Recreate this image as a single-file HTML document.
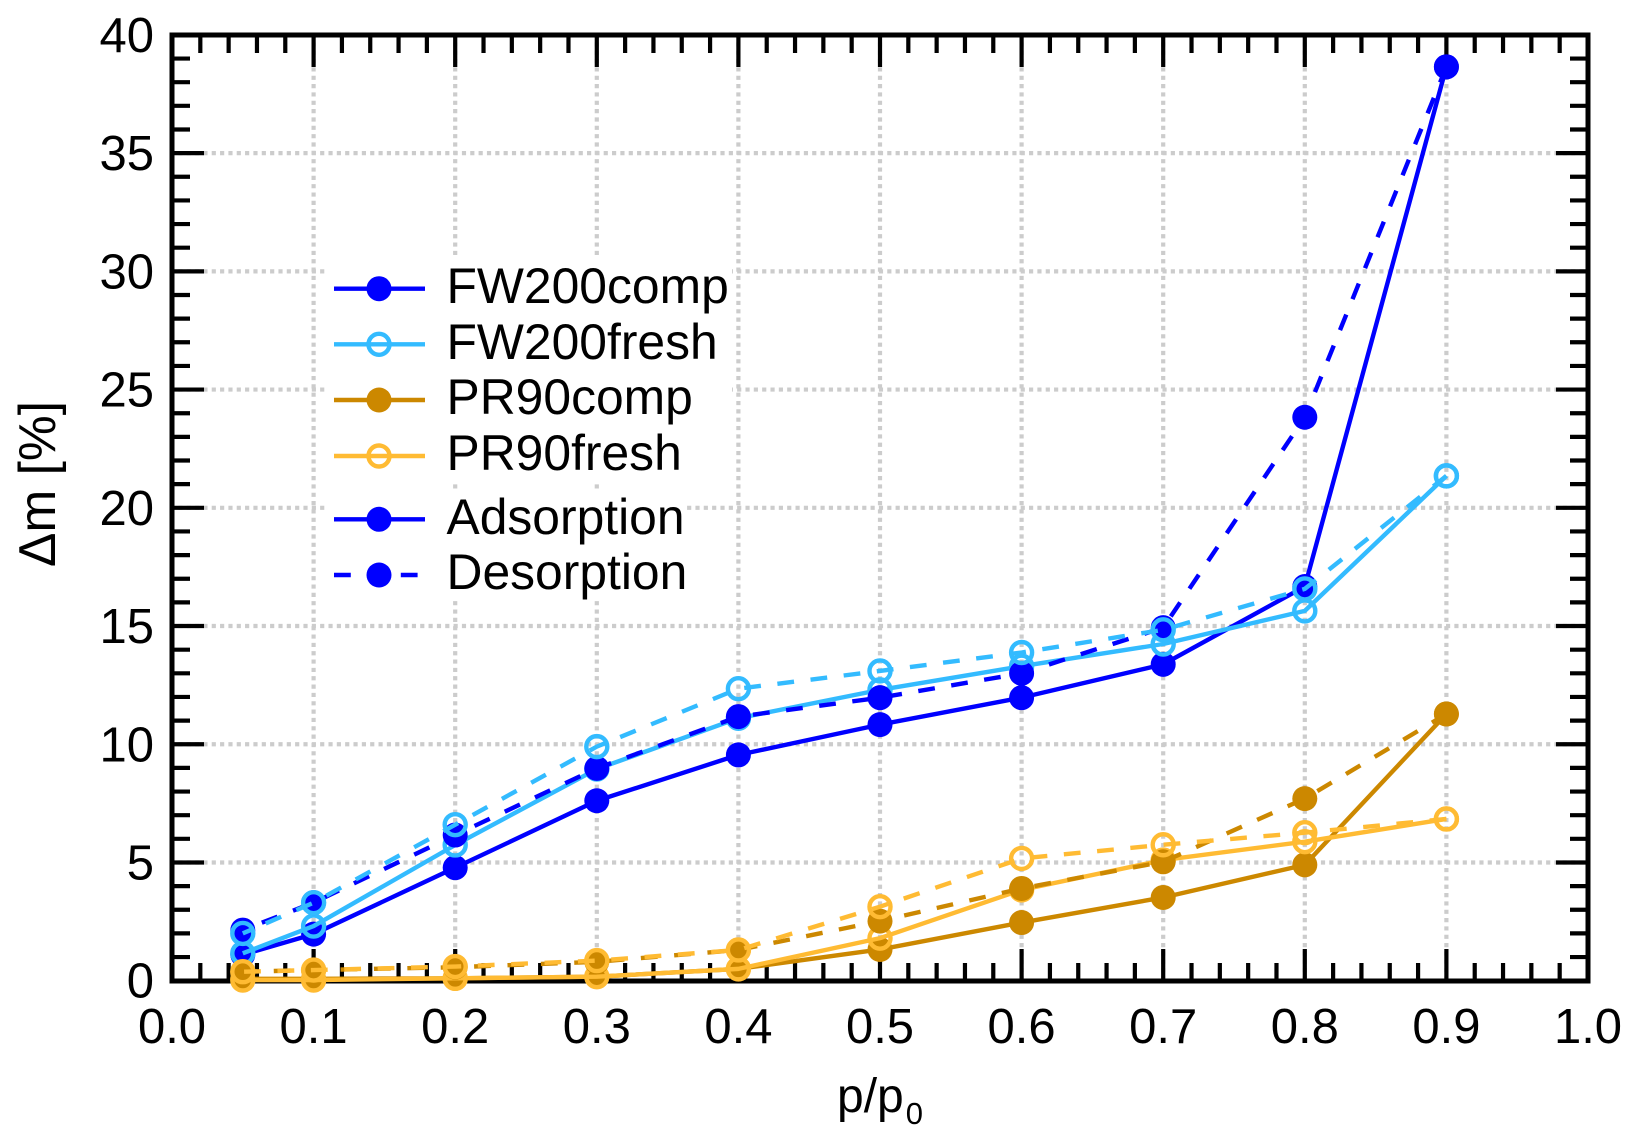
<!DOCTYPE html>
<html lang="en">
<head>
<meta charset="utf-8">
<title>Mass change vs relative pressure</title>
<style>
html,body{margin:0;padding:0;background:#fff;}
svg{display:block;font-family:"Liberation Sans",Arial,sans-serif;}
</style>
</head>
<body>
<svg id="chart" xmlns="http://www.w3.org/2000/svg" width="1639" height="1143" viewBox="0 0 1639 1143">
<rect x="0" y="0" width="1639" height="1143" fill="#ffffff"/>
<g id="grid"></g>
<g id="ticks"></g>
<rect x="172" y="35" width="1416" height="946" fill="none" stroke="#000" stroke-width="5"/>
<g id="tick-labels"></g>
<g id="series"></g>
<text transform="translate(55,484) rotate(-90)" text-anchor="middle" font-size="51.5" fill="#000">Δm [%]</text>
<text x="837" y="1112" font-size="48" fill="#000">p/p<tspan font-size="31" dy="12" dx="2">0</tspan></text>

<rect x="325" y="256" width="407" height="228" fill="#fff"/>
<rect x="325" y="490" width="360" height="110" fill="#fff"/>

<g>
  <line x1="334" x2="425" y1="288.7" y2="288.7" stroke="#0000ff" stroke-width="4.4"/>
  <circle cx="379" cy="288.7" r="12.5" fill="#0000ff"/>
  <text x="446.5" y="303" font-size="49.8" fill="#000">FW200comp</text>
</g>
<g>
  <line x1="334" x2="425" y1="344.3" y2="344.3" stroke="#33bbff" stroke-width="4.4"/>
  <circle cx="379" cy="344.3" r="10.5" fill="none" stroke="#33bbff" stroke-width="4.4"/>
  <text x="446.5" y="359" font-size="49.8" fill="#000">FW200fresh</text>
</g>
<g>
  <line x1="334" x2="425" y1="400" y2="400" stroke="#cc8800" stroke-width="4.4"/>
  <circle cx="379" cy="400" r="12.5" fill="#cc8800"/>
  <text x="446.5" y="414" font-size="49.8" fill="#000">PR90comp</text>
</g>
<g>
  <line x1="334" x2="425" y1="456" y2="456" stroke="#ffbb33" stroke-width="4.4"/>
  <circle cx="379" cy="456" r="10.5" fill="none" stroke="#ffbb33" stroke-width="4.4"/>
  <text x="446.5" y="470" font-size="49.8" fill="#000">PR90fresh</text>
</g>
<g>
  <line x1="334" x2="425" y1="519.3" y2="519.3" stroke="#0000ff" stroke-width="4.4"/>
  <circle cx="379" cy="519.3" r="12.5" fill="#0000ff"/>
  <text x="446.5" y="534" font-size="49.8" fill="#000">Adsorption</text>
</g>
<g>
  <line x1="334" x2="425" y1="575" y2="575" stroke="#0000ff" stroke-width="4.4" stroke-dasharray="16.8 16.6"/>
  <circle cx="379" cy="575" r="12.5" fill="#0000ff"/>
  <text x="446.5" y="589" font-size="49.8" fill="#000">Desorption</text>
</g>
</svg>
<script>
const pressures = [0.05, 0.1, 0.2, 0.3, 0.4, 0.5, 0.6, 0.7, 0.8, 0.9];
const fw200compAds = [1.1, 1.97, 4.78, 7.61, 9.55, 10.83, 11.97, 13.38, 16.67, 38.65];
const fw200compDes = [2.14, 3.3, 6.16, 8.98, 11.17, 11.97, 13.0, 14.93, 23.83, 38.65];
const fw200freshAds = [1.16, 2.31, 5.74, 8.95, 11.1, 12.3, 13.3, 14.24, 15.64, 21.35];
const fw200freshDes = [2.0, 3.3, 6.6, 9.9, 12.35, 13.1, 13.88, 14.84, 16.57, 21.35];
const pr90compAds = [0.08, 0.08, 0.1, 0.17, 0.5, 1.32, 2.46, 3.52, 4.9, 11.28];
const pr90compDes = [0.38, 0.45, 0.57, 0.8, 1.3, 2.52, 3.9, 5.03, 7.7, 11.28];
const pr90freshAds = [0.03, 0.03, 0.1, 0.17, 0.5, 1.8, 3.84, 5.1, 5.88, 6.84];
const pr90freshDes = [0.38, 0.45, 0.6, 0.85, 1.3, 3.13, 5.17, 5.75, 6.26, 6.84];
const xTickLabels = ['0.0', '0.1', '0.2', '0.3', '0.4', '0.5', '0.6', '0.7', '0.8', '0.9', '1.0'];
const yTickLabels = ['0', '5', '10', '15', '20', '25', '30', '35', '40'];

const NS = 'http://www.w3.org/2000/svg';
function sx(v) { return 172 + v * 1416; }
function sy(v) { return 980.7 - v * 23.645; }
function make(tag, parent, attrs) {
  const el = document.createElementNS(NS, tag);
  for (const k in attrs) el.setAttribute(k, attrs[k]);
  parent.appendChild(el);
  return el;
}

const gridG = document.getElementById('grid');
const ticksG = document.getElementById('ticks');
const labelsG = document.getElementById('tick-labels');

xTickLabels.forEach(function (label) {
  const v = parseFloat(label);
  if (v > 0 && v < 1) {
    const g = make('line', gridG, {x1: sx(v), x2: sx(v), y1: 34, y2: 981, stroke: '#cccccc', 'stroke-width': 4.2, 'stroke-dasharray': '4.17 4.17'});
    
    
  }
  [[981, 981 - 32], [35, 35 + 32]].forEach(function (e) {
    const t = make('line', ticksG, {x1: sx(v), x2: sx(v), y1: e[0], y2: e[1], stroke: '#000', 'stroke-width': 4.2});
    
    
  });
  if (v < 1) {
    for (let m = 1; m < 5; m++) {
      [[981, 981 - 18], [35, 35 + 18]].forEach(function (e) {
        const t = make('line', ticksG, {x1: sx(v + m * 0.02), x2: sx(v + m * 0.02), y1: e[0], y2: e[1], stroke: '#000', 'stroke-width': 4.2});
        
        
      });
    }
  }
  const txt = make('text', labelsG, {x: sx(v), y: 1043, 'text-anchor': 'middle', 'font-size': 49, fill: '#000'});
  txt.textContent = label;
  
  
});

yTickLabels.forEach(function (label) {
  const v = parseFloat(label);
  if (v > 0 && v < 40) {
    const g = make('line', gridG, {x1: 170, x2: 1588, y1: sy(v), y2: sy(v), stroke: '#cccccc', 'stroke-width': 4.2, 'stroke-dasharray': '4.17 4.17'});
    
    
  }
  [[172, 172 + 32], [1588, 1588 - 32]].forEach(function (e) {
    const t = make('line', ticksG, {x1: e[0], x2: e[1], y1: sy(v), y2: sy(v), stroke: '#000', 'stroke-width': 4.2});
    
    
  });
  if (v < 40) {
    for (let m = 1; m < 5; m++) {
      [[172, 172 + 18], [1588, 1588 - 18]].forEach(function (e) {
        const t = make('line', ticksG, {x1: e[0], x2: e[1], y1: sy(v + m), y2: sy(v + m), stroke: '#000', 'stroke-width': 4.2});
        
        
      });
    }
  }
  const txt = make('text', labelsG, {x: 154, y: sy(v) + 17, 'text-anchor': 'end', 'font-size': 49, fill: '#000'});
  txt.textContent = label;
  
  
});

const seriesG = document.getElementById('series');
function drawSeries(name, values, color, hollow, dashed) {
  const g = make('g', seriesG, {});
  
  
  let pts = pressures.map(function (p, i) { return sx(p) + ',' + sy(values[i]); });
  if (dashed) pts = pts.reverse();
  const line = make('polyline', g, {points: pts.join(' '), fill: 'none', stroke: color, 'stroke-width': 4.4, 'stroke-linejoin': 'round'});
  if (dashed) line.setAttribute('stroke-dasharray', '16.8 16.6');
  
  
  pressures.forEach(function (p, i) {
    const c = make('circle', g, {cx: sx(p), cy: sy(values[i])});
    if (hollow) {
      c.setAttribute('r', 10.5);
      c.setAttribute('fill', 'none');
      c.setAttribute('stroke', color);
      c.setAttribute('stroke-width', 4.4);
    } else {
      c.setAttribute('r', 12.5);
      c.setAttribute('fill', color);
    }
    
    
  });
}

drawSeries('fw200comp-adsorption', fw200compAds, '#0000ff', false, false);
drawSeries('fw200fresh-adsorption', fw200freshAds, '#33bbff', true, false);
drawSeries('fw200comp-desorption', fw200compDes, '#0000ff', false, true);
drawSeries('fw200fresh-desorption', fw200freshDes, '#33bbff', true, true);
drawSeries('pr90comp-adsorption', pr90compAds, '#cc8800', false, false);
drawSeries('pr90fresh-adsorption', pr90freshAds, '#ffbb33', true, false);
drawSeries('pr90comp-desorption', pr90compDes, '#cc8800', false, true);
drawSeries('pr90fresh-desorption', pr90freshDes, '#ffbb33', true, true);
</script>
</body>
</html>
